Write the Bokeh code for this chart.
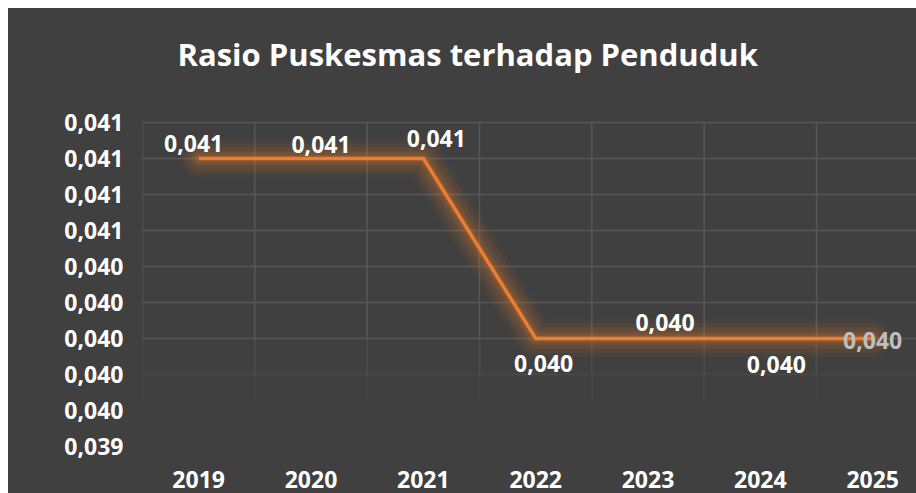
from bokeh.plotting import figure
from bokeh.models import ColumnDataSource, FixedTicker, Range1d, Span, Title
from bokeh.core.properties import value
from bokeh.embed import file_html
from bokeh.resources import INLINE

# ---- data ----
years = ["2019", "2020", "2021", "2022", "2023", "2024", "2025"]
ratio = [0.0410, 0.0410, 0.0410, 0.0400, 0.0400, 0.0400, 0.0400]
label_text = ["0,041", "0,041", "0,041", "0,040", "0,040", "0,040", "0,040"]
y_ticks = [0.0394, 0.0396, 0.0398, 0.0400, 0.0402, 0.0404, 0.0406, 0.0408, 0.0410, 0.0412]
y_tick_labels = ["0,039", "0,040", "0,040", "0,040", "0,040", "0,040", "0,041", "0,041", "0,041", "0,041"]
title_text = "Rasio Puskesmas terhadap Penduduk"

# ---- styles ----
BG = "#404040"
ORANGE = "#ED7D31"
GRID = "#575757"
FONT = "Open Sans"
lbl_dx = [-5, 10, 13, 8, 17, 16, 0]
lbl_dy = [-15, -14, -20, 25, -16, 26, 2]
lbl_color = ["white"] * 6 + ["#BFBFBF"]

xs = list(range(len(years)))

p = figure(width=908, height=485, output_backend="svg", toolbar_location=None,
           x_range=Range1d(-0.5, 6.39), y_range=Range1d(0.039294, 0.041205),
           min_border_left=134, min_border_top=113, min_border_right=0, min_border_bottom=28)
p.margin = (8, 0, 0, 8)
p.styles = {"background-color": BG}
p.background_fill_color = BG
p.border_fill_color = BG
p.outline_line_color = None
p.xgrid.visible = False
p.ygrid.visible = False

# spacer between title and plot area, then the title
p.add_layout(Title(text=" ", text_font_size="26px", text_color=BG), "above")
p.add_layout(Title(text=title_text, text_color="white", text_font=FONT,
                   text_font_style="bold", text_font_size="31px",
                   align="left", offset=35), "above")

# gridlines (fading toward the bottom)
def h_alpha(t):
    if t >= 0.04: return 1.0
    if t >= 0.0398: return 0.45
    if t >= 0.0396: return 0.12
    return 0.0
for t in y_ticks:
    a = h_alpha(t)
    if a > 0:
        p.add_layout(Span(location=t, dimension="width", line_color=GRID, line_width=1.5, line_alpha=a, level="underlay"))
bounds = [i - 0.5 for i in range(len(years) + 1)]
pieces = [(0.0412, 0.0400, 1.0), (0.0400, 0.0398, 0.6), (0.0398, 0.03965, 0.3)]
for (ya, yb, a) in pieces:
    p.segment(x0=bounds, x1=bounds, y0=[ya] * len(bounds), y1=[yb] * len(bounds),
              line_color=GRID, line_width=1.5, line_alpha=a, level="underlay")

src = ColumnDataSource(dict(x=xs, y=ratio, t=label_text, dx=lbl_dx, dy=lbl_dy, c=lbl_color))

# glow
for w, a in [(38, 0.05), (30, 0.07), (22, 0.09), (14, 0.12), (8, 0.15)]:
    p.line("x", "y", source=src, line_color=ORANGE, line_width=w, line_alpha=a, line_join="round", line_cap="round")
p.line("x", "y", source=src, line_color=ORANGE, line_width=3.5, line_join="round")

p.text("x", "y", text="t", source=src, x_offset="dx", y_offset="dy", text_color="c",
       text_font=value(FONT), text_font_style="bold", text_font_size="23px",
       text_align="center", text_baseline="middle")

# axes
p.xaxis.ticker = FixedTicker(ticks=xs)
p.xaxis.major_label_overrides = {i: y for i, y in zip(xs, years)}
p.yaxis.ticker = FixedTicker(ticks=y_ticks)
p.yaxis.major_label_overrides = {t: l for t, l in zip(y_ticks, y_tick_labels)}
for ax in p.xaxis + p.yaxis:
    ax.axis_line_color = None
    ax.major_tick_line_color = None
    ax.minor_tick_line_color = None
    ax.major_tick_out = 0
    ax.minor_tick_out = 0
    ax.major_label_text_color = "white"
    ax.major_label_text_font = FONT
    ax.major_label_text_font_style = "bold"
    ax.major_label_text_font_size = "23px"
p.yaxis.major_label_standoff = 19
p.xaxis.major_label_standoff = 5

open("out.html", "w").write(file_html(p, INLINE))
